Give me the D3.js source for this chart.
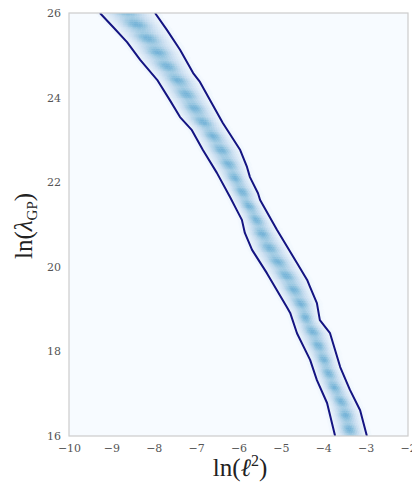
<!DOCTYPE html>
<html>
<head>
<meta charset="utf-8">
<script src="https://cdn.jsdelivr.net/npm/d3@7"></script>
<style>
  html, body { margin: 0; padding: 0; background: #fff; }
  #chart { width: 412px; height: 485px; }
  .tick text { font-family: "DejaVu Serif", serif; font-size: 11px; fill: #555; }
  .axis-title { font-family: "Liberation Serif", "DejaVu Serif", serif; fill: #222; }
</style>
</head>
<body>
<div id="chart"></div>
<script>
// ---------------- data ----------------
const xTicks = [-10, -9, -8, -7, -6, -5, -4, -3, -2];
const yTicks = [16, 18, 20, 22, 24, 26];

// left contour: ln(l^2), ln(lambda_GP)
const leftX = [-9.27, -8.96, -8.63, -8.32, -7.92, -7.62, -7.38, -7.10, -6.84, -6.51, -6.20, -6.04, -5.92, -5.85, -5.68, -5.33, -4.86, -4.78, -4.62, -4.31, -4.15, -3.91, -3.72];
const leftY = [26.0, 25.67, 25.31, 24.89, 24.42, 23.94, 23.54, 23.23, 22.76, 22.22, 21.65, 21.34, 21.11, 20.80, 20.40, 19.85, 19.05, 18.91, 18.43, 17.80, 17.32, 16.78, 16.0];

// right contour
const rightX = [-7.97, -7.69, -7.38, -7.07, -6.91, -6.67, -6.37, -5.96, -5.80, -5.73, -5.54, -5.49, -5.09, -4.62, -4.38, -4.31, -4.15, -4.08, -3.84, -3.60, -3.37, -3.13, -2.97];
const rightY = [26.0, 25.60, 25.13, 24.58, 24.37, 23.94, 23.40, 22.76, 22.36, 22.12, 21.74, 21.58, 20.87, 20.09, 19.69, 19.52, 19.14, 18.74, 18.43, 17.63, 17.09, 16.61, 16.0];

// ---------------- init ----------------
const width = 412, height = 485;
const margin = { top: 13, right: 4, bottom: 49, left: 69 };

const svg = d3.select("#chart").append("svg")
  .attr("width", width).attr("height", height);

const xScale = d3.scaleLinear().domain([-10, -2]).range([margin.left, width - margin.right]);
const yScale = d3.scaleLinear().domain([16, 26]).range([height - margin.bottom, margin.top]);
const colorScale = d3.scaleSequential(d3.interpolateBlues).domain([0, 1]);

svg.append("clipPath").attr("id", "clip")
  .append("rect")
  .attr("x", margin.left).attr("y", margin.top)
  .attr("width", width - margin.left - margin.right)
  .attr("height", height - margin.top - margin.bottom);

// background of the plot = lowest colour of the map
svg.append("rect")
  .attr("x", margin.left).attr("y", margin.top)
  .attr("width", width - margin.left - margin.right)
  .attr("height", height - margin.top - margin.bottom)
  .attr("fill", colorScale(0));

// linear lookup of a contour x at a given y
function contourAt(xs, ys, y) {
  for (let i = 0; i < ys.length - 1; i++) {
    const y0 = ys[i], y1 = ys[i + 1];
    if (y <= y0 && y >= y1) {
      const f = (y - y0) / (y1 - y0);
      return xs[i] + f * (xs[i + 1] - xs[i]);
    }
  }
  return y > ys[0] ? xs[0] : xs[xs.length - 1];
}

// density cells, shaped by the two contours
const step = 0.04;
const cells = [];
for (let y = 16; y < 26; y += step) {
  const yc = y + step / 2;
  const L = contourAt(leftX, leftY, yc);
  const R = contourAt(rightX, rightY, yc);
  const c = (L + R) / 2, h = (R - L) / 2;
  const spot = 0.5 + 0.5 * Math.cos(2 * Math.PI * yc / 0.33);
  for (let x = L - 0.1; x < R + 0.1; x += step) {
    const t = (x + step / 2 - c) / h;
    const v = Math.exp(-1.9 * t * t) * (0.36 + 0.12 * spot * Math.exp(-3 * t * t));
    if (v > 0.01) cells.push({ x: x, y: y, v: v });
  }
}

const heat = svg.append("g").attr("clip-path", "url(#clip)");
heat.selectAll("rect")
  .data(cells)
  .join("rect")
  .attr("x", d => xScale(d.x))
  .attr("y", d => yScale(d.y + step))
  .attr("width", xScale(step) - xScale(0) + 0.4)
  .attr("height", yScale(0) - yScale(step) + 0.4)
  .attr("fill", d => colorScale(d.v));

// contour lines
const line = d3.line().x(d => xScale(d[0])).y(d => yScale(d[1]));
const contours = svg.append("g").attr("clip-path", "url(#clip)");
[[leftX, leftY], [rightX, rightY]].forEach(([xs, ys]) => {
  contours.append("path")
    .datum(xs.map((x, i) => [x, ys[i]]))
    .attr("d", line)
    .attr("fill", "none")
    .attr("stroke", "#141482")
    .attr("stroke-width", 2)
    .attr("stroke-linejoin", "round");
});

// frame
svg.append("rect")
  .attr("x", margin.left).attr("y", margin.top)
  .attr("width", width - margin.left - margin.right)
  .attr("height", height - margin.top - margin.bottom)
  .attr("fill", "none")
  .attr("stroke", "#cccccc")
  .attr("stroke-width", 1.2);

// axes (no tick marks)
const fmt = d => d3.format("")(d).replace("-", "\u2212");
svg.append("g")
  .attr("class", "x-axis")
  .attr("transform", `translate(0,${height - margin.bottom})`)
  .call(d3.axisBottom(xScale).tickValues(xTicks).tickFormat(fmt).tickSize(0).tickPadding(8))
  .call(g => g.select(".domain").remove());

svg.append("g")
  .attr("class", "y-axis")
  .attr("transform", `translate(${margin.left},0)`)
  .call(d3.axisLeft(yScale).tickValues(yTicks).tickFormat(fmt).tickSize(0).tickPadding(8))
  .call(g => g.select(".domain").remove());

// units
svg.append("text")
  .attr("class", "axis-title")
  .attr("x", 240).attr("y", 476)
  .attr("text-anchor", "middle")
  .attr("font-size", 25)
  .html('ln(<tspan font-style="italic">ℓ</tspan><tspan font-size="16" dy="-10">2</tspan><tspan dy="10">)</tspan>');

svg.append("text")
  .attr("class", "axis-title")
  .attr("transform", "translate(32,226) rotate(-90)")
  .attr("text-anchor", "middle")
  .attr("font-size", 25)
  .html('ln(<tspan font-style="italic">λ</tspan><tspan font-size="15" dy="5">GP</tspan><tspan dy="-5">)</tspan>');
</script>
</body>
</html>
